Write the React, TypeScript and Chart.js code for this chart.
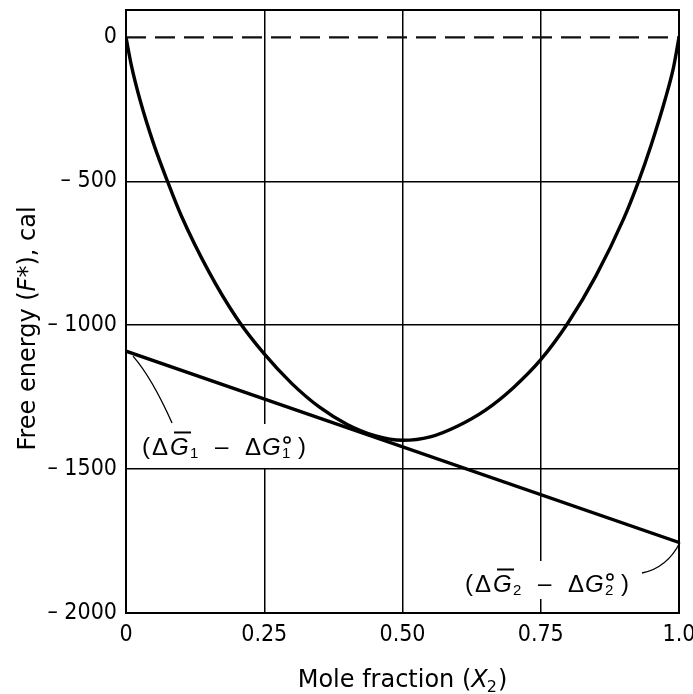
import React, { useEffect, useRef } from 'react';
import { Chart, registerables } from 'chart.js';

Chart.register(...registerables);

// ---- data ----
const moleFraction = [0, 0.01, 0.025, 0.05, 0.075, 0.1, 0.15, 0.2, 0.25, 0.3, 0.35, 0.4, 0.45, 0.5, 0.55, 0.6, 0.65, 0.7, 0.75, 0.8, 0.85, 0.9, 0.925, 0.95, 0.975, 0.99, 1.0];
const freeEnergy = [0, -100, -215, -370, -500, -620, -815, -975, -1100, -1203, -1285, -1345, -1384, -1400, -1388, -1350, -1295, -1218, -1120, -990, -828, -630, -510, -372, -215, -105, 0];
const tangentX = [0, 1];
const tangentY = [-1090, -1755];
const referenceX = [0, 1];
const referenceY = [0, 0];
const xTickValues = [0, 0.25, 0.5, 0.75, 1];
const xTickLabels = ['0', '0.25', '0.50', '0.75', '1.0'];
const yTickValues = [-2000, -1500, -1000, -500, 0];
const yTickLabels = ['\u2013 2000', '\u2013 1500', '\u2013 1000', '\u2013 500', '0'];
const yMin = -2000;
const yMax = 95;
const labelX = [0.029, 0.613];
const labelY = [-1451, -1927];
const labelSub = ['1', '2'];
const xTitle = ['Mole fraction (', 'X', '2', ')'];
const yTitle = ['Free energy (', 'F', '*), cal'];

const TICK_FONT = '"Liberation Sans Narrow", "DejaVu Sans Condensed", "Liberation Sans", Arial, sans-serif';
const TEXT_FONT = '"Liberation Sans", Arial, sans-serif';
const TITLE_FONT = '"DejaVu Sans", "Liberation Sans", sans-serif';

function drawDeltaLabel(ctx: CanvasRenderingContext2D, L: number, B: number, sub: string) {
  const big = `24px ${TEXT_FONT}`;
  const bigItalic = `italic 24px ${TEXT_FONT}`;
  const small = `15px ${TEXT_FONT}`;
  ctx.fillStyle = '#000';
  ctx.strokeStyle = '#000';
  ctx.textAlign = 'left';
  ctx.textBaseline = 'alphabetic';
  ctx.font = big;
  ctx.fillText('(', L, B - 1);
  ctx.fillText('\u0394', L + 10, B);
  ctx.font = bigItalic;
  ctx.fillText('G', L + 28, B);
  ctx.lineWidth = 2;
  ctx.beginPath();
  ctx.moveTo(L + 32, B - 22.5);
  ctx.lineTo(L + 49, B - 22.5);
  ctx.stroke();
  ctx.font = small;
  ctx.fillText(sub, L + 48, B + 3);
  ctx.font = big;
  ctx.fillText('\u2013', L + 73, B - 1);
  ctx.fillText('\u0394', L + 103, B);
  ctx.font = bigItalic;
  ctx.fillText('G', L + 120, B);
  // degree mark (standard-state symbol)
  ctx.lineWidth = 1.6;
  ctx.beginPath();
  ctx.arc(L + 145, B - 15, 3, 0, Math.PI * 2);
  ctx.stroke();
  ctx.font = small;
  ctx.fillText(sub, L + 140, B + 3);
  ctx.font = big;
  ctx.fillText(')', L + 156, B - 1);
}

const boxBottom = [13, 7];

const decorPlugin = {
  id: 'decor',
  afterDraw(chart: any) {
    const { ctx, chartArea: a } = chart;
    const xs = chart.scales.x;
    const ys = chart.scales.y;
    ctx.save();

    // labels with white backgrounds
    for (let i = 0; i < labelX.length; i++) {
      const L = xs.getPixelForValue(labelX[i]);
      const B = ys.getPixelForValue(labelY[i]);
      ctx.fillStyle = '#fff';
      ctx.fillRect(L - 3, B - 31, 170, 31 + boxBottom[i]);
      drawDeltaLabel(ctx, L, B, labelSub[i]);
    }

    // frame
    ctx.strokeStyle = '#000';
    ctx.lineWidth = 2;
    ctx.strokeRect(a.left, a.top, a.right - a.left, a.bottom - a.top);

    // leader lines
    ctx.lineWidth = 1.3;
    ctx.strokeStyle = '#000';
    {
      const sx = xs.getPixelForValue(tangentX[0]) + 7;
      const sy = ys.getPixelForValue(tangentY[0]) + 5;
      const L = xs.getPixelForValue(labelX[0]);
      const B = ys.getPixelForValue(labelY[0]);
      ctx.beginPath();
      ctx.moveTo(sx, sy);
      ctx.quadraticCurveTo(L + 10, B - 77, L + 30, B - 32);
      ctx.stroke();
    }
    {
      const ex = xs.getPixelForValue(tangentX[1]) + 1;
      const ey = ys.getPixelForValue(tangentY[1]);
      const L = xs.getPixelForValue(labelX[1]);
      const B = ys.getPixelForValue(labelY[1]);
      ctx.beginPath();
      ctx.moveTo(L + 177, B - 19);
      ctx.quadraticCurveTo(L + 202, B - 24, ex, ey);
      ctx.stroke();
    }

    // x title
    ctx.fillStyle = '#000';
    ctx.textBaseline = 'alphabetic';
    ctx.textAlign = 'left';
    const tf = `24px ${TITLE_FONT}`;
    const tfi = `italic 24px ${TITLE_FONT}`;
    const sf = `16px ${TITLE_FONT}`;
    ctx.font = tf;
    const w0 = ctx.measureText(xTitle[0]).width;
    ctx.font = tfi;
    const w1 = ctx.measureText(xTitle[1]).width;
    ctx.font = sf;
    const w2 = ctx.measureText(xTitle[2]).width;
    ctx.font = tf;
    const w3 = ctx.measureText(xTitle[3]).width;
    const total = w0 + w1 + w2 + w3;
    const cx = (a.left + a.right) / 2;
    let px = cx - total / 2;
    const base = a.bottom + 74;
    ctx.font = tf; ctx.fillText(xTitle[0], px, base); px += w0;
    ctx.font = tfi; ctx.fillText(xTitle[1], px, base); px += w1;
    ctx.font = sf; ctx.fillText(xTitle[2], px - 1, base + 5); px += w2;
    ctx.font = tf; ctx.fillText(xTitle[3], px, base);

    // y title
    ctx.save();
    ctx.translate(35, (a.top + a.bottom) / 2 + 17);
    ctx.rotate(-Math.PI / 2);
    ctx.font = tf;
    const v0 = ctx.measureText(yTitle[0]).width;
    ctx.font = tfi;
    const v1 = ctx.measureText(yTitle[1]).width;
    ctx.font = tf;
    const v2 = ctx.measureText(yTitle[2]).width;
    let qx = -(v0 + v1 + v2) / 2;
    ctx.font = tf; ctx.fillText(yTitle[0], qx, 0); qx += v0;
    ctx.font = tfi; ctx.fillText(yTitle[1], qx, 0); qx += v1;
    ctx.font = tf; ctx.fillText(yTitle[2], qx, 0);
    ctx.restore();

    ctx.restore();
  },
};

export default function App() {
  const canvasRef = useRef<HTMLCanvasElement | null>(null);

  useEffect(() => {
    const canvas = canvasRef.current;
    if (!canvas) return;
    const curve = moleFraction.map((x, i) => ({ x, y: freeEnergy[i] }));
    const tangent = tangentX.map((x, i) => ({ x, y: tangentY[i] }));
    const reference = referenceX.map((x, i) => ({ x, y: referenceY[i] }));

    const chart = new Chart(canvas, {
      type: 'line',
      data: {
        datasets: [
          {
            label: 'reference',
            data: reference,
            borderColor: '#111',
            borderWidth: 2.2,
            borderDash: [20, 9],
            pointRadius: 0,
            fill: false,
          },
          {
            label: 'F*',
            data: curve,
            borderColor: '#000',
            borderWidth: 3.4,
            pointRadius: 0,
            cubicInterpolationMode: 'monotone',
            fill: false,
          },
          {
            label: 'tangent',
            data: tangent,
            borderColor: '#000',
            borderWidth: 3.4,
            pointRadius: 0,
            fill: false,
          },
        ],
      },
      options: {
        responsive: false,
        animation: false,
        devicePixelRatio: 1,
        layout: { padding: { top: 10, right: 14, left: 0, bottom: 0 } },
        plugins: {
          legend: { display: false },
          tooltip: { enabled: false },
          title: { display: false },
        },
        scales: {
          x: {
            type: 'linear',
            min: 0,
            max: 1,
            afterBuildTicks: (scale: any) => {
              scale.ticks = xTickValues.map((v) => ({ value: v }));
            },
            afterFit: (scale: any) => {
              scale.height = 81;
              scale.paddingLeft = 0;
              scale.paddingRight = 0;
            },
            ticks: {
              color: '#000',
              padding: 8,
              maxRotation: 0,
              autoSkip: false,
              font: { family: TICK_FONT, size: 23 },
              callback: (v: any) => {
                const idx = xTickValues.indexOf(Number(v));
                return idx >= 0 ? xTickLabels[idx] : '';
              },
            },
            grid: {
              drawTicks: false,
              lineWidth: 1.5,
              color: (c: any) => (c.tick && (c.tick.value === 0 || c.tick.value === 1) ? 'rgba(0,0,0,0)' : '#000'),
            },
            border: { display: false },
          },
          y: {
            type: 'linear',
            min: yMin,
            max: yMax,
            afterBuildTicks: (scale: any) => {
              scale.ticks = yTickValues.map((v) => ({ value: v }));
            },
            afterFit: (scale: any) => {
              scale.width = 126;
              scale.paddingTop = 0;
              scale.paddingBottom = 0;
            },
            ticks: {
              color: '#000',
              padding: 9,
              autoSkip: false,
              font: { family: TICK_FONT, size: 23 },
              callback: (v: any) => {
                const idx = yTickValues.indexOf(Number(v));
                return idx >= 0 ? yTickLabels[idx] : '';
              },
            },
            grid: {
              drawTicks: false,
              lineWidth: 1.5,
              color: (c: any) => (c.tick && (c.tick.value === 0 || c.tick.value === -2000) ? 'rgba(0,0,0,0)' : '#000'),
            },
            border: { display: false },
          },
        },
      },
      plugins: [decorPlugin],
    } as any);

    return () => chart.destroy();
  }, []);

  return (
    <div style={{ position: 'fixed', left: 0, top: 0, width: 693, height: 694, background: '#fff' }}>
      <canvas ref={canvasRef} width={693} height={694} style={{ display: 'block', width: 693, height: 694 }} />
    </div>
  );
}
